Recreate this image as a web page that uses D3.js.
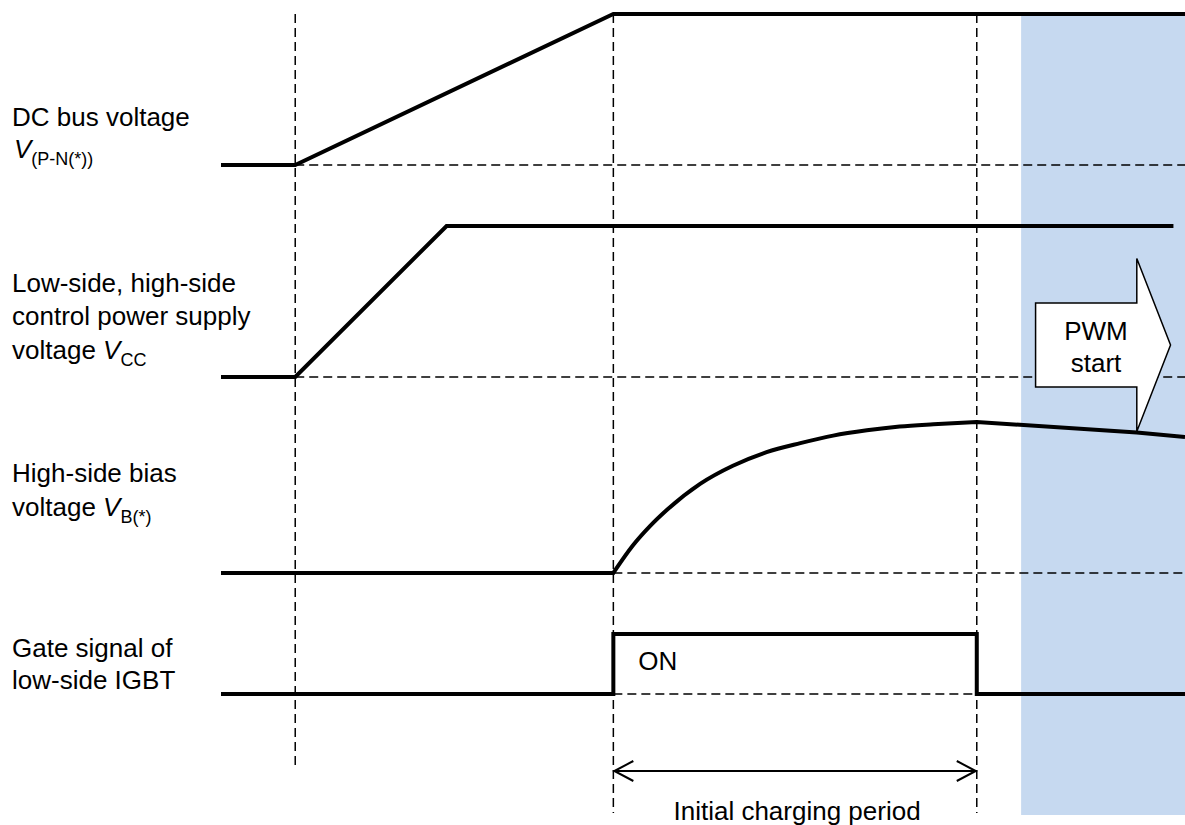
<!DOCTYPE html>
<html><head><meta charset="utf-8">
<script src="https://cdn.jsdelivr.net/npm/d3@7"></script>
<style>
body{margin:0;background:#fff}
svg{display:block}
text{font-family:"Liberation Sans",Arial,Helvetica,sans-serif;fill:#000}
</style>
</head><body>
<svg id="chart" width="1185" height="825"></svg>
<script>
// ---------- data (time in arbitrary units, level normalised 0..1) ----------
const markerTimes = [7.7, 40.7, 78.4];          // power-on, gate on, gate off
const markerEnds  = ["short", "long", "long"];
const pwmStartT   = 83.0;
const endT        = 100;

const dcBusT = [0, 7.7, 40.7, 100];
const dcBusV = [0, 0, 1, 1];

const vccT = [0, 7.7, 23.4, 98.8];
const vccV = [0, 0, 1, 1];

const vbT = [0, 40.7, 42.7, 44.5, 46.3, 49.7, 53.1, 56.6, 60.1, 63.5, 67.0, 70.4, 73.9, 78.4, 95.0, 100];
const vbV = [0, 0, 0.18, 0.31, 0.42, 0.59, 0.71, 0.80, 0.86, 0.91, 0.945, 0.97, 0.985, 1.00, 0.93, 0.90];

const gateT = [0, 40.7, 40.7, 78.4, 78.4, 100];
const gateV = [0, 0, 1, 1, 0, 0];

const labelLines = [
  ["DC bus voltage"],
  ["Low-side, high-side", "control power supply", "voltage "],
  ["High-side bias", "voltage "],
  ["Gate signal of", "low-side IGBT"]
];
const labelSymbol = ["V", "V", "V", ""];
const labelSub    = ["(P-N(*))", "CC", "B(*)", ""];
const onText      = "ON";
const periodText  = "Initial charging period";
const pwmText     = ["PWM", "start"];

// ---------- layout ----------
const svg = d3.select("#chart");
const x = d3.scaleLinear().domain([0, endT]).range([221, 1185]);
const FS = 26, SUBFS = 18;

// one y scale per row: level 0 = baseline, level 1 = high
const rows = [
  {T: dcBusT, V: dcBusV, y: d3.scaleLinear().domain([0,1]).range([165, 14]), dashFrom: 7.7, dashTo: 100},
  {T: vccT,   V: vccV,   y: d3.scaleLinear().domain([0,1]).range([377, 226]), dashFrom: 7.7, dashTo: 100},
  {T: vbT,    V: vbV,    y: d3.scaleLinear().domain([0,1]).range([573, 422]), dashFrom: 40.7, dashTo: 100},
  {T: gateT,  V: gateV,  y: d3.scaleLinear().domain([0,1]).range([694, 634]), dashFrom: 40.7, dashTo: 78.4}
];
const labelBase = [[126, 158], [292, 325, 359], [482, 516], [657, 689]];

// shaded PWM area
svg.append("rect")
  .attr("x", x(pwmStartT)).attr("y", 15)
  .attr("width", x(endT) - x(pwmStartT)).attr("height", 800)
  .attr("fill", "#c6d9f0");

const dash = "9,5";
// vertical markers
markerTimes.forEach((t, i) => {
  svg.append("line")
    .attr("x1", x(t)).attr("x2", x(t))
    .attr("y1", 14).attr("y2", markerEnds[i] === "short" ? 770 : 813)
    .attr("stroke", "#000").attr("stroke-width", 1.5)
    .attr("stroke-dasharray", dash);
});

// horizontal baselines
rows.forEach(r => {
  svg.append("line")
    .attr("x1", x(r.dashFrom)).attr("x2", x(r.dashTo))
    .attr("y1", r.y(0)).attr("y2", r.y(0))
    .attr("stroke", "#000").attr("stroke-width", 1.5)
    .attr("stroke-dasharray", dash);
});

// waveforms
const lin = (ys) => d3.line().x(d => x(d[0])).y(d => ys(d[1]));
rows.forEach((r, i) => {
  const pts = r.T.map((t, k) => [t, r.V[k]]);
  let d;
  if (i === 2) {
    const peak = r.V.indexOf(1.00);
    const a = pts.slice(0, 2);
    const c = pts.slice(1, peak + 1);
    const b = pts.slice(peak);
    d = lin(r.y)(a) +
        d3.line().x(p => x(p[0])).y(p => r.y(p[1])).curve(d3.curveMonotoneX)(c).replace(/^M/, "L") +
        lin(r.y)(b).replace(/^M/, "L");
  } else {
    d = lin(r.y)(pts);
  }
  svg.append("path").attr("d", d)
    .attr("fill", "none").attr("stroke", "#000")
    .attr("stroke-width", 4).attr("stroke-linejoin", "miter");
});

// labels
labelLines.forEach((lines, i) => {
  const t = svg.append("text").attr("font-size", FS);
  const bases = labelBase[i];
  lines.forEach((ln, k) => {
    t.append("tspan").attr("x", 12).attr("y", bases[k]).text(ln);
  });
  if (labelSymbol[i]) {
    if (lines.length === 1) {
      t.append("tspan").attr("x", 14).attr("y", bases[bases.length - 1]).attr("font-style", "italic").text(labelSymbol[i]);
    } else {
      t.append("tspan").attr("font-style", "italic").text(labelSymbol[i]);
    }
    t.append("tspan").attr("font-size", SUBFS).attr("dy", 7).text(labelSub[i]);
  }
});

// ON text
svg.append("text").attr("x", x(40.7) + 25).attr("y", 670).attr("font-size", FS).text(onText);

// double arrow for initial charging period
const ay = 771;
const ax1 = x(markerTimes[1]), ax2 = x(markerTimes[2]);
const arrow = svg.append("g").attr("stroke", "#000").attr("stroke-width", 2).attr("fill", "none");
arrow.append("line").attr("x1", ax1 + 1).attr("x2", ax2 - 1).attr("y1", ay).attr("y2", ay);
arrow.append("path").attr("d", `M${ax1 + 20},${ay - 10}L${ax1 + 1},${ay}L${ax1 + 20},${ay + 10}`);
arrow.append("path").attr("d", `M${ax2 - 20},${ay - 10}L${ax2 - 1},${ay}L${ax2 - 20},${ay + 10}`);
svg.append("text").attr("x", (ax1 + ax2) / 2 + 2).attr("y", 820)
  .attr("text-anchor", "middle").attr("font-size", FS).text(periodText);

// PWM start block arrow
const bodyL = x(84.5), headB = x(95.0), tip = x(98.5);
const cy = 345, bh = 42, hh = 86.5;
svg.append("path")
  .attr("d", `M${bodyL},${cy - bh}L${headB},${cy - bh}L${headB},${cy - hh}L${tip},${cy}L${headB},${cy + hh}L${headB},${cy + bh}L${bodyL},${cy + bh}Z`)
  .attr("fill", "#fff").attr("stroke", "#000").attr("stroke-width", 1.5).attr("stroke-linejoin", "miter");
const pt = svg.append("text").attr("text-anchor", "middle").attr("font-size", FS);
pt.append("tspan").attr("x", 1096).attr("y", 340).text(pwmText[0]);
pt.append("tspan").attr("x", 1096).attr("y", 372).text(pwmText[1]);
</script>
</body></html>
